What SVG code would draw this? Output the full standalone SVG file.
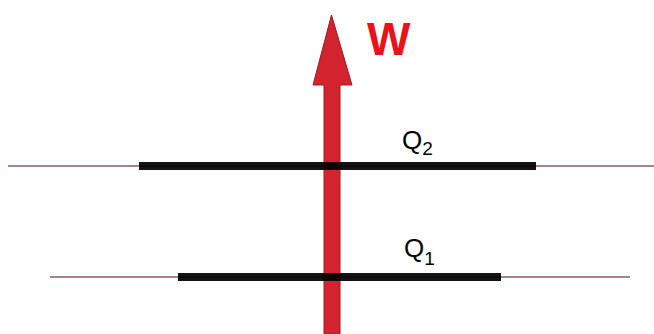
<svg xmlns="http://www.w3.org/2000/svg" width="654" height="334" viewBox="0 0 654 334">
<style>
.thin{stroke:#8a5a5e;stroke-width:1.5;fill:none}
.bar{stroke:#000;stroke-width:8;fill:none;stroke-opacity:0.92}
.lbl{font-family:"Liberation Sans",Arial,sans-serif;font-size:26px;fill:#000}
.sub{font-size:19px}
.w{font-family:"Liberation Sans",Arial,sans-serif;font-size:46px;font-weight:bold;fill:#e8121a}
</style>
<rect width="654" height="334" fill="#fff"/>
<g id="connectors">
<path d="M324,334 L324,85 L313,85 L331.5,15 L352,85 L340,85 L340,334 Z" fill="#d2232e" stroke="#9e1a24" stroke-width="1"/>
</g>
<g id="level-Q2">
<line class="thin" x1="8" y1="166" x2="654" y2="166"/>
<line class="bar" x1="139" y1="166" x2="536" y2="166"/>
<text class="lbl" x="402" y="149">Q<tspan class="sub" dy="6">2</tspan></text>
</g>
<g id="level-Q1">
<line class="thin" x1="50" y1="277" x2="630" y2="277"/>
<line class="bar" x1="178" y1="277" x2="501" y2="277"/>
<text class="lbl" x="404" y="257">Q<tspan class="sub" dy="8">1</tspan></text>
</g>
<g id="label-W">
<text class="w" x="367" y="55">W</text>
</g>
</svg>
